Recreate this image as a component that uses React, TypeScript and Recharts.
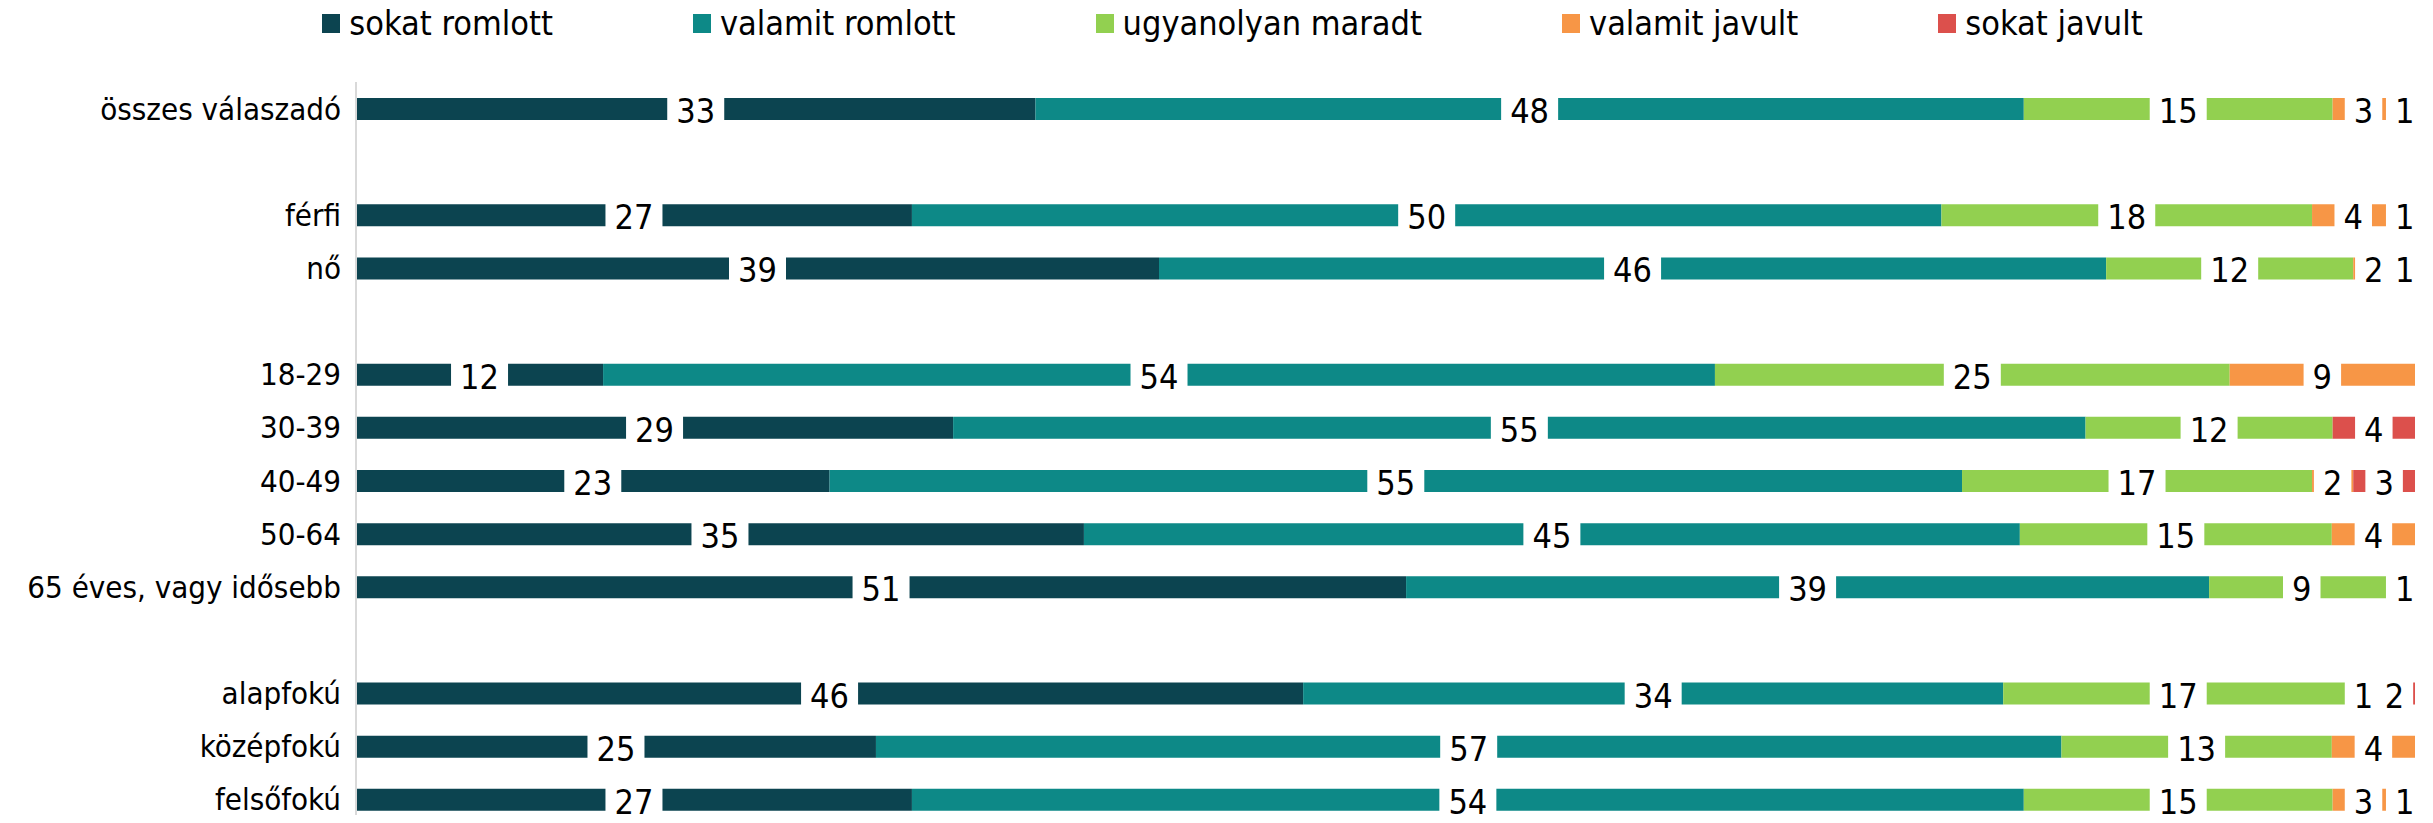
import React from "react";
import { BarChart, Bar, XAxis, YAxis, Legend, LabelList } from "recharts";

const categories = [
    "összes válaszadó",
    " ",
    "férfi",
    "nő",
    "  ",
    "18-29",
    "30-39",
    "40-49",
    "50-64",
    "65 éves, vagy idősebb",
    "   ",
    "alapfokú",
    "középfokú",
    "felsőfokú",
];

const sokatRomlott = [33, null, 27, 39, null, 12, 29, 23, 35, 51, null, 46, 25, 27];
const valamitRomlott = [48, null, 50, 46, null, 54, 55, 55, 45, 39, null, 34, 57, 54];
const ugyanolyan = [15, null, 18, 12, null, 25, 12, 17, 15, 9, null, 17, 13, 15];
const valamitJavult = [3, null, 4, 2, null, 9, null, 2, 4, 1, null, 1, 4, 3];
const sokatJavult = [1, null, 1, 1, null, null, 4, 3, null, null, null, 2, null, 1];

const seriesNames = ["sokat romlott", "valamit romlott", "ugyanolyan maradt", "valamit javult", "sokat javult"];
const seriesValues = [sokatRomlott, valamitRomlott, ugyanolyan, valamitJavult, sokatJavult];
const colors = ["#0c4450", "#0d8987", "#92d050", "#f79646", "#dc504c"];

const data = categories.map((name, i) => {
    const row: Record<string, any> = { name };
    seriesValues.forEach((vals, s) => {
        row["s" + s] = vals[i];
    });
    return row;
});

const FONT = "'DejaVu Sans Condensed', 'DejaVu Sans', sans-serif";

// white box with the value, centred in the segment
const renderLabel = (props: any) => {
    const { x, y, width, height, value } = props;
    if (value == null || value === "" || Array.isArray(value)) return null;
    const cx = Number(x) + Number(width) / 2;
    const cy = Number(y) + Number(height) / 2;
    const text = String(value);
    const w = text.length * 19.5 + 18;
    return (
        <g>
            <rect x={cx - w / 2} y={cy - 13} width={w} height={26} fill="#fff" />
            <text
                x={cx}
                y={cy + 2}
                textAnchor="middle"
                dominantBaseline="central"
                fontSize={34}
                fontFamily={FONT}
                fill="#000"
            >
                {text}
            </text>
        </g>
    );
};

function LegendContent() {
    return (
        <div
            style={{
                display: "flex",
                justifyContent: "center",
                gap: 140,
                fontFamily: FONT,
                fontSize: 34,
                color: "#000",
                marginTop: 3,
                paddingLeft: 50,
            }}
        >
            {seriesNames.map((n, i) => (
                <div key={n} style={{ display: "flex", alignItems: "center" }}>
                    <span style={{ width: 18, height: 19, background: colors[i], marginRight: 9, display: "inline-block" }} />
                    <span>{n}</span>
                </div>
            ))}
        </div>
    );
}

export default function App() {
    return (
        <div style={{ margin: -8, width: 2433, height: 823, overflow: "hidden", background: "#fff" }}>
            <BarChart
                width={2433}
                height={826}
                data={data}
                layout="vertical"
                stackOffset="expand"
                barSize={22}
                barCategoryGap={0}
                margin={{ top: 0, right: 18, left: 0, bottom: 0 }}
            >
                <XAxis type="number" domain={[0, 1]} hide />
                <YAxis
                    type="category"
                    dataKey="name"
                    width={356}
                    axisLine={{ stroke: "#d9d9d9", strokeWidth: 2 }}
                    tickLine={false}
                    tickSize={0}
                    tickMargin={15}
                    interval={0}
                    tick={{ fontSize: 31, fill: "#000", fontFamily: FONT }}
                />
                <Legend verticalAlign="top" height={82} content={<LegendContent />} />
                {seriesValues.map((vals, s) => (
                    <Bar
                        key={s}
                        dataKey={"s" + s}
                        name={seriesNames[s]}
                        stackId="a"
                        fill={colors[s]}
                        isAnimationActive={false}
                    >
                        <LabelList dataKey={"s" + s} content={renderLabel} />
                    </Bar>
                ))}
            </BarChart>
        </div>
    );
}
